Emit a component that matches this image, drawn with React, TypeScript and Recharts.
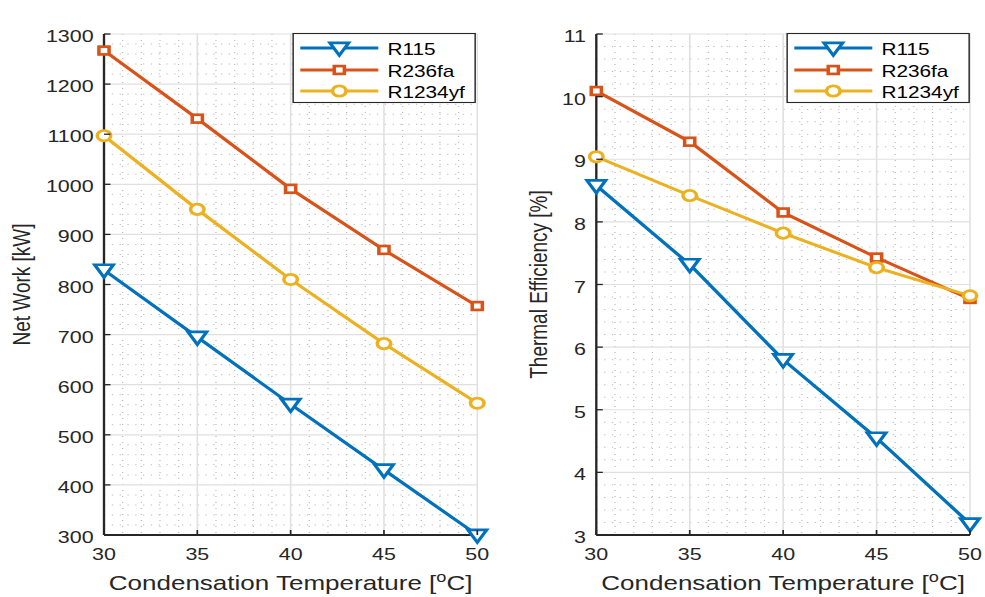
import React from 'react';
import { LineChart, Line, XAxis, YAxis, CartesianGrid, Legend, Label } from 'recharts';

// ---------- data ----------
const temps = [30, 35, 40, 45, 50];
const seriesNames = ['R115', 'R236fa', 'R1234yf'];
const seriesColors = ['#0072BD', '#D95319', '#EDB120'];
const seriesMarkers = ['tri', 'sq', 'circ'];

const netWorkR115 = [829, 695, 561, 430, 300];
const netWorkR236fa = [1267, 1131, 991, 869, 757];
const netWorkR1234yf = [1097, 950, 810, 682, 563];

const effR115 = [8.58, 7.32, 5.8, 4.55, 3.18];
const effR236fa = [10.09, 9.28, 8.15, 7.43, 6.77];
const effR1234yf = [9.04, 8.42, 7.82, 7.27, 6.82];

const xTicks = [30, 35, 40, 45, 50];
const xMinor = [31, 32, 33, 34, 36, 37, 38, 39, 41, 42, 43, 44, 46, 47, 48, 49];
const netTicks = [300, 400, 500, 600, 700, 800, 900, 1000, 1100, 1200, 1300];
const netMinor = [
  320, 340, 360, 380, 420, 440, 460, 480, 520, 540, 560, 580, 620, 640, 660, 680,
  720, 740, 760, 780, 820, 840, 860, 880, 920, 940, 960, 980, 1020, 1040, 1060, 1080,
  1120, 1140, 1160, 1180, 1220, 1240, 1260, 1280,
];
const effTicks = [3, 4, 5, 6, 7, 8, 9, 10, 11];
const effMinor = [
  3.2, 3.4, 3.6, 3.8, 4.2, 4.4, 4.6, 4.8, 5.2, 5.4, 5.6, 5.8, 6.2, 6.4, 6.6, 6.8,
  7.2, 7.4, 7.6, 7.8, 8.2, 8.4, 8.6, 8.8, 9.2, 9.4, 9.6, 9.8, 10.2, 10.4, 10.6, 10.8,
];

const netData = temps.map((t, i) => ({
  t,
  R115: netWorkR115[i],
  R236fa: netWorkR236fa[i],
  R1234yf: netWorkR1234yf[i],
}));
const effData = temps.map((t, i) => ({
  t,
  R115: effR115[i],
  R236fa: effR236fa[i],
  R1234yf: effR1234yf[i],
}));

// ---------- layout / style ----------
const S = 1.3; // horizontal stretch of the reference
const W = 985 / S;
const H = 597;
const CW = W / 2;
const FONT = '"Liberation Sans", Arial, Helvetica, sans-serif';
const AX = '#262626';
const TICK_FS = 16.5;
const LW = 2.9;

function Marker({ kind, cx, cy, color }: any) {
  if (cx == null || cy == null) return null;
  if (kind === 'tri') {
    return (
      <polygon
        points={`${cx - 7.2},${cy - 5.2} ${cx + 7.2},${cy - 5.2} ${cx},${cy + 7.4}`}
        fill="white"
        stroke={color}
        strokeWidth={2.7}
      />
    );
  }
  if (kind === 'sq') {
    return <rect x={cx - 3.9} y={cy - 3.9} width={7.8} height={7.8} fill="white" stroke={color} strokeWidth={2.7} />;
  }
  return <circle cx={cx} cy={cy} r={5.2} fill="white" stroke={color} strokeWidth={2.7} />;
}

const LeftTick = (p: any) => (
  <g>
    <line x1={p.x} x2={p.x + 5} y1={p.y} y2={p.y} stroke={AX} strokeWidth={1.3} />
    <text x={p.x - 8} y={p.y} dy={2.5} textAnchor="end" dominantBaseline="central" fontSize={TICK_FS} fill={AX}>
      {p.payload.value}
    </text>
  </g>
);
const RightTick = (p: any) => (
  <line x1={p.x} x2={p.x - 5} y1={p.y} y2={p.y} stroke={AX} strokeWidth={1.3} />
);
const BottomTick = (p: any) => (
  <g>
    <line x1={p.x} x2={p.x} y1={p.y} y2={p.y - 5} stroke={AX} strokeWidth={1.3} />
    <text x={p.x} y={p.y + 25} textAnchor="middle" fontSize={TICK_FS} fill={AX}>
      {p.payload.value}
    </text>
  </g>
);
const TopTick = (p: any) => (
  <line x1={p.x} x2={p.x} y1={p.y} y2={p.y + 5} stroke={AX} strokeWidth={1.3} />
);

function LegendBox() {
  const rows = [15, 37, 58];
  return (
    <svg width={141} height={70} style={{ display: 'block', overflow: 'visible' }}>
      <rect x={0.5} y={0.5} width={140} height={69} fill="white" stroke={AX} strokeWidth={1.1} />
      {seriesNames.map((n, i) => (
        <g key={n}>
          <line x1={6} x2={66} y1={rows[i]} y2={rows[i]} stroke={seriesColors[i]} strokeWidth={LW} />
          <Marker kind={seriesMarkers[i]} cx={36} cy={rows[i]} color={seriesColors[i]} />
          <text x={73} y={rows[i]} dy={1} dominantBaseline="central" fontSize={16} fill="#000" fontFamily={FONT}>
            {n}
          </text>
        </g>
      ))}
    </svg>
  );
}

function Panel({ data, yTicks, yMinor, yDomain, ylabel, yLabelX, yAxisW, legendLeft }: any) {
  const axisLine = { stroke: AX, strokeWidth: 1.8 };
  return (
    <LineChart
      width={CW}
      height={H}
      data={data}
      margin={{ top: 34, right: 11.7, left: 0, bottom: 0 }}
      style={{ fontFamily: FONT }}
    >
      <CartesianGrid
        horizontalValues={yMinor}
        verticalValues={xMinor}
        stroke="#bdbdbd"
        strokeDasharray="1 5"
        strokeWidth={1}
      />
      <CartesianGrid stroke="#e0e0e0" strokeWidth={1.2} />
      <XAxis
        dataKey="t"
        type="number"
        domain={[30, 50]}
        ticks={xTicks}
        interval={0}
        height={62}
        axisLine={axisLine}
        tickLine={false}
        tickSize={0}
        tickMargin={0}
        tick={BottomTick}
      >
        <Label
          content={({ viewBox }: any) => (
            <text
              x={viewBox.x + viewBox.width / 2}
              y={viewBox.y + 55}
              textAnchor="middle"
              fontSize={20}
              fill={AX}
            >
              Condensation Temperature [<tspan dy={-8} fontSize={14}>o</tspan>
              <tspan dy={8}>C]</tspan>
            </text>
          )}
        />
      </XAxis>
      <XAxis
        xAxisId="top"
        orientation="top"
        type="number"
        domain={[30, 50]}
        ticks={xTicks}
        interval={0}
        height={0}
        axisLine={axisLine}
        tickLine={false}
        tickSize={0}
        tickMargin={0}
        tick={TopTick}
      >
        <Label
          content={({ viewBox }: any) => (
            <text
              x={viewBox.x + viewBox.width / 2}
              y={viewBox.y - 8}
              textAnchor="middle"
              fontSize={18}
              fontWeight="bold"
              fill="#000"
            >
              SBC-R
            </text>
          )}
        />
      </XAxis>
      <YAxis
        type="number"
        domain={yDomain}
        ticks={yTicks}
        interval={0}
        width={yAxisW}
        axisLine={axisLine}
        tickLine={false}
        tickSize={0}
        tickMargin={0}
        tick={LeftTick}
      >
        <Label
          content={({ viewBox }: any) => {
            const cx = viewBox.x + yLabelX;
            const cy = viewBox.y + viewBox.height / 2;
            return (
              <text
                transform={`translate(${cx},${cy}) rotate(-90)`}
                textAnchor="middle"
                dominantBaseline="central"
                fontSize={19}
                fill={AX}
              >
                {ylabel}
              </text>
            );
          }}
        />
      </YAxis>
      <YAxis
        yAxisId="r"
        orientation="right"
        type="number"
        domain={yDomain}
        ticks={yTicks}
        interval={0}
        width={0}
        axisLine={axisLine}
        tickLine={false}
        tickSize={0}
        tickMargin={0}
        tick={RightTick}
      />
      <Legend
        layout="horizontal"
        verticalAlign="middle"
        align="center"
        wrapperStyle={{ position: 'absolute', left: legendLeft, top: 33, width: 141, height: 70, margin: 0, padding: 0 }}
        content={() => <LegendBox />}
      />
      {seriesNames.map((n, i) => (
        <Line
          key={n}
          type="linear"
          dataKey={n}
          name={n}
          stroke={seriesColors[i]}
          strokeWidth={LW}
          isAnimationActive={false}
          activeDot={false}
          dot={(p: any) => (
            <Marker key={`${n}-${p.index}`} kind={seriesMarkers[i]} cx={p.cx} cy={p.cy} color={seriesColors[i]} />
          )}
        />
      ))}
    </LineChart>
  );
}

export default function App() {
  return (
    <div
      style={{
        position: 'absolute',
        left: 0,
        top: 0,
        width: W,
        height: H,
        transform: `scaleX(${S})`,
        transformOrigin: '0 0',
        display: 'flex',
        background: '#fff',
        fontFamily: FONT,
      }}
    >
      <Panel
        data={netData}
        yTicks={netTicks}
        yMinor={netMinor}
        yDomain={[300, 1300]}
        ylabel="Net Work [kW]"
        yLabelX={16.7}
        yAxisW={80}
        legendLeft={224.6}
      />
      <Panel
        data={effData}
        yTicks={effTicks}
        yMinor={effMinor}
        yDomain={[3, 11]}
        ylabel="Thermal Efficiency [%]"
        yLabelX={35.4}
        yAxisW={79.7}
        legendLeft={226.5}
      />
    </div>
  );
}
